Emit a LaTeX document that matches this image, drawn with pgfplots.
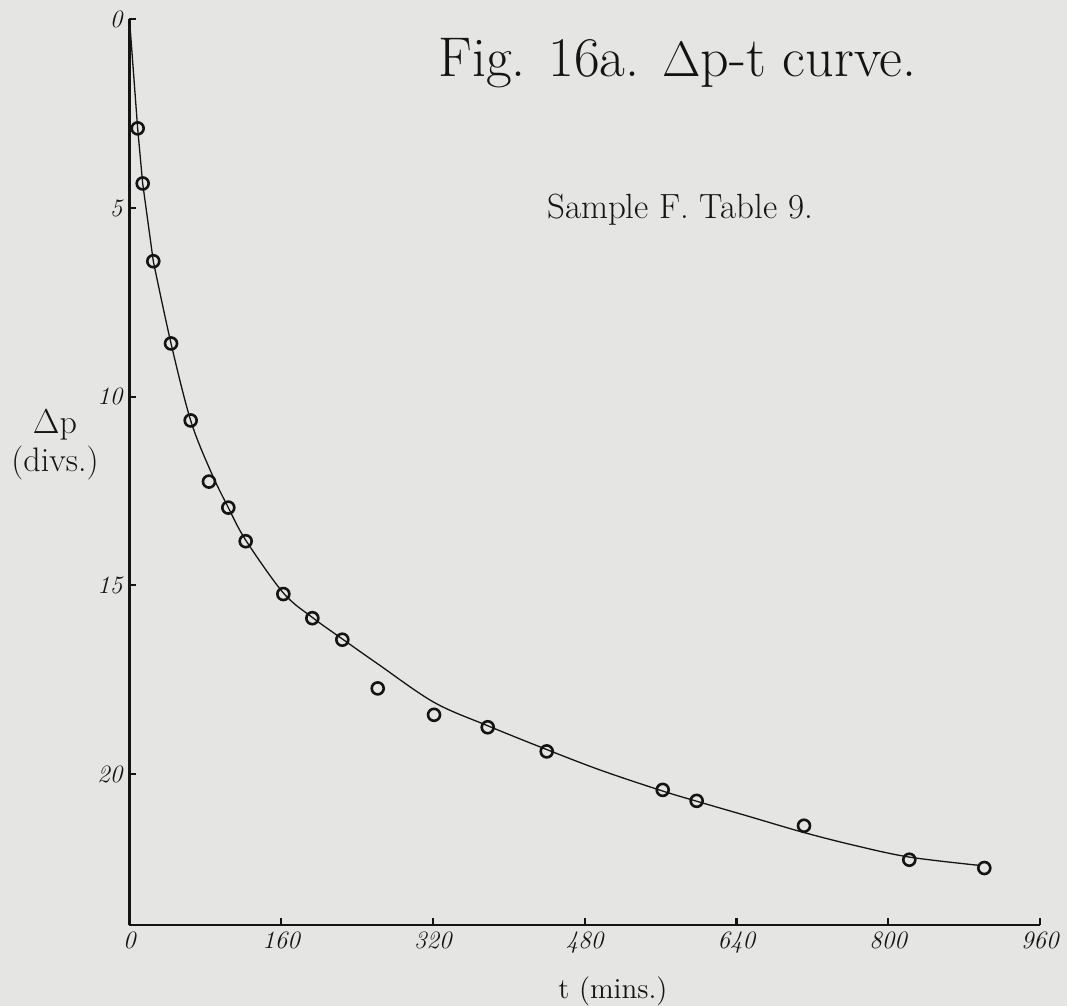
\documentclass[border=0pt]{standalone}
\usepackage{pgfplots}
\pgfplotsset{compat=1.18}
\definecolor{paper}{RGB}{229,229,227}
\definecolor{ink}{RGB}{20,20,20}
\pgfplotstableread{
t dp
8.6 2.89
13.9 4.35
25.1 6.41
43.8 8.59
64.5 10.63
83.8 12.25
104.2 12.94
122.5 13.83
162.2 15.23
192.8 15.87
224.4 16.44
261.7 17.73
321.1 18.43
377.7 18.76
439.9 19.40
562.2 20.42
598.0 20.71
711.2 21.37
822.2 22.27
901.3 22.49
}\points
\begin{document}
\begin{tikzpicture}
\path[use as bounding box, fill=paper] (-64.75pt,-40.5pt) rectangle (468.75pt,462.5pt);
\begin{axis}[
  scale only axis, width=455.25pt, height=452.85pt,
  at={(0,0)}, anchor=south west,
  xmin=0, xmax=960, ymin=0, ymax=24, y dir=reverse,
  axis x line=bottom, axis y line=left,
  axis line style={-, line width=1.4pt, ink},
  xtick={0,160,...,960}, ytick={0,5,10,15,20},
  tick align=inside, major tick length=3.5pt,
  tick style={line width=1.1pt, ink},
  tick label style={font=\fontsize{12.5}{14}\selectfont\itshape, text=ink},
  /pgf/number format/assume math mode=true,
  clip=false,
]
\addplot[ink, line width=0.65pt] coordinates {(0,0) (8.6,2.89) (13.9,4.35) (25.1,6.41)};
\addplot[ink, line width=0.65pt, smooth, tension=0.55] coordinates {
(25.1,6.41) (43.8,8.59) (64.5,10.63) (86,12.0) (104.2,12.94) (122.5,13.8)
(162.2,15.2) (192.8,15.85) (224.4,16.42) (261.7,17.08) (321.1,18.1) (377.7,18.72)
(439.9,19.35) (497,19.9) (562.2,20.45) (598,20.72) (650,21.1) (711.2,21.55)
(766,21.9) (822.2,22.2) (896,22.42)};
\addplot[only marks, mark=o, mark size=3pt, mark options={line width=1.3pt, draw=ink, fill=paper}] table[x=t, y=dp] {\points};
\end{axis}
\node[anchor=base, text=ink, font=\fontsize{28}{32}\selectfont] at (274pt,424pt) {Fig. 16a. $\Delta$p-t curve.};
\node[anchor=base, text=ink, font=\fontsize{17.5}{20}\selectfont] at (275.25pt,353pt) {Sample F. Table 9.};
\node[align=center, text=ink, font=\fontsize{17}{19}\selectfont, inner sep=0pt] at (-37.25pt,240pt) {$\Delta$p\\(divs.)};
\node[text=ink, font=\fontsize{14.5}{17}\selectfont] at (241.75pt,-33pt) {t (mins.)};
\end{tikzpicture}
\end{document}
